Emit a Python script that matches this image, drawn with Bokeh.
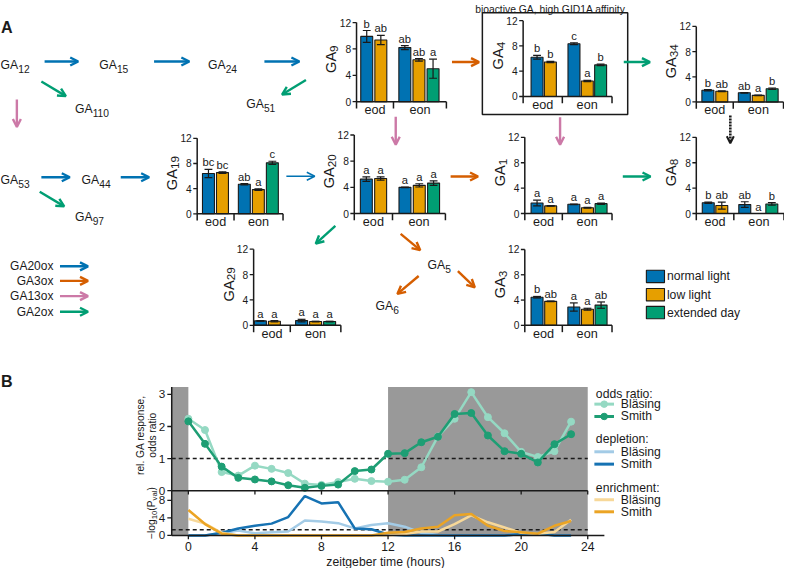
import math
from bokeh.plotting import figure
from bokeh.models import Range1d, Arrow, OpenHead
from bokeh.core.properties import value
from bokeh.embed import file_html
from bokeh.resources import INLINE

# ------------------------------------------------------------------ data
GROUPS = ["eod", "eon"]
CONDITIONS = ["normal light", "low light", "extended day"]
BAR_CONDITION = [0, 1, 0, 1, 2]      # condition of each bar: eod (2 bars), eon (3 bars)
Y_TICKS = [0, 4, 8, 12]

GA9_MEAN = [9.9, 9.35, 8.2, 6.35, 5.0]
GA9_ERR = [0.9, 0.7, 0.3, 0.2, 1.45]
GA9_SIG = ["b", "ab", "ab", "ab", "a"]

GA4_MEAN = [6.2, 5.45, 8.35, 2.45, 5.0]
GA4_ERR = [0.3, 0.1, 0.15, 0.1, 0.12]
GA4_SIG = ["b", "b", "c", "a", "b"]

GA34_MEAN = [1.85, 1.7, 1.45, 1.05, 2.1]
GA34_ERR = [0.1, 0.05, 0.05, 0.05, 0.12]
GA34_SIG = ["b", "ab", "ab", "a", "b"]

GA19_MEAN = [6.4, 6.55, 4.7, 3.85, 8.1]
GA19_ERR = [0.65, 0.12, 0.1, 0.12, 0.25]
GA19_SIG = ["bc", "bc", "ab", "a", "c"]

GA20_MEAN = [5.25, 5.35, 4.0, 4.3, 4.65]
GA20_ERR = [0.35, 0.25, 0.05, 0.25, 0.35]
GA20_SIG = ["a", "a", "a", "a", "a"]

GA1_MEAN = [1.65, 1.2, 1.45, 0.9, 1.55]
GA1_ERR = [0.45, 0.05, 0.05, 0.05, 0.1]
GA1_SIG = ["a", "a", "a", "a", "a"]

GA8_MEAN = [1.7, 1.25, 1.4, 0.0, 1.5]
GA8_ERR = [0.1, 0.55, 0.45, 0.0, 0.2]
GA8_SIG = ["b", "ab", "ab", "a", "b"]

GA29_MEAN = [0.7, 0.65, 0.75, 0.6, 0.6]
GA29_ERR = [0.05, 0.1, 0.2, 0.05, 0.05]
GA29_SIG = ["a", "a", "a", "a", "a"]

GA3_MEAN = [4.45, 3.8, 2.9, 2.55, 3.2]
GA3_ERR = [0.12, 0.05, 0.65, 0.15, 0.5]
GA3_SIG = ["b", "ab", "a", "a", "ab"]

ENZYMES = ["GA20ox", "GA3ox", "GA13ox", "GA2ox"]

ZT_HOURS = list(range(24))
ODDS_BLAESING = [2.24, 1.89, 0.58, 0.47, 0.78, 0.68, 0.55, 0.22, 0.18, 0.27, 0.37, 0.30,
                 0.28, 0.34, 0.73, 1.69, 2.24, 3.07, 2.29, 1.79, 1.21, 1.05, 1.23, 2.15]
ODDS_SMITH = [2.16, 1.46, 0.75, 0.40, 0.35, 0.29, 0.17, 0.09, 0.15, 0.19, 0.61, 0.66,
              1.15, 1.17, 1.51, 1.68, 2.39, 2.42, 1.72, 1.23, 1.15, 0.88, 1.45, 1.76]
DEPL_BLAESING = [0, 0, 0.5, 1.1, 0.5, 0.7, 0.9, 3.4, 3.2, 2.8, 1.6, 2.4,
                 2.8, 2.0, 0.6, 0.1, 0, 0, 0, 0, 0.3, 0.4, 0, 0]
DEPL_SMITH = [0, 0, 0.6, 1.6, 2.2, 2.7, 4.2, 9.0, 7.3, 7.6, 1.6, 1.4,
              0.2, 0, 0, 0, 0, 0, 0, 0, 0.3, 0.5, 0, 0]
ENR_BLAESING = [3.8, 2.7, 0.6, 0, 0, 0, 0, 0, 0, 0, 0, 0,
                0, 0.3, 0.9, 0.9, 2.6, 4.6, 3.0, 1.8, 0.6, 0.4, 0.8, 3.6]
ENR_SMITH = [5.8, 2.6, 0.4, 0, 0, 0, 0, 0, 0, 0, 0, 0,
             0.6, 0.8, 1.6, 2.0, 4.6, 4.9, 2.2, 1.0, 0.7, 0.4, 2.2, 3.3]
DARK_START = [-1, 12]
DARK_END = [0, 24]
ZT_TICKS = [0, 4, 8, 12, 16, 20, 24]
ODDS_TICKS = [0, 1, 2, 3]
LOGP_TICKS = [0, 4, 8]
ODDS_REF = 1.0
P_REF = -math.log10(0.05)

# ------------------------------------------------------------------ style
FONT = value("Liberation Sans")
FONT_SCALE = 0.975
INK = "#1a1a1a"
BAR_COLORS = ["#0072B2", "#E69F00", "#009E73"]
ARROW_COLORS = {"b": "#0072B2", "o": "#D55E00", "p": "#CC79A7", "g": "#009E73", "k": "#1a1a1a"}
C_ODDS_B, C_ODDS_S = "#95d9c3", "#1e9e74"
C_DEP_B, C_DEP_S = "#a3cbe6", "#1672b3"
C_ENR_B, C_ENR_S = "#f7d899", "#eba424"
GREY = "#999999"

W = {' ': 278, '(': 333, ')': 333, ',': 278, '.': 278, '\u2212': 584, '-': 333, ':': 278,
     'A': 667, 'B': 667, 'D': 722, 'G': 778, 'I': 278, 'P': 667, 'S': 667,
     'a': 556, 'b': 556, 'c': 500, 'd': 556, 'e': 556, 'f': 278, 'g': 556, 'h': 556,
     'i': 222, 'l': 222, 'm': 833, 'n': 556, 'o': 556, 'p': 556, 'r': 333, 's': 500,
     't': 278, 'u': 556, 'v': 500, 'x': 500, 'y': 500, 'z': 500, '\u00e4': 556}
for d in "0123456789":
    W[d] = 556


def fs(px):
    return f"{px * FONT_SCALE:.2f}px"


def tw(s, size):
    return sum(W.get(c, 556) for c in s) * size / 1000.0


p = figure(width=784, height=568, x_range=Range1d(0, 800), y_range=Range1d(584, 0),
           x_axis_type=None, y_axis_type=None, output_backend="svg",
           toolbar_location=None, min_border=0, outline_line_color=None)
p.background_fill_color = "white"
p.border_fill_color = "white"
p.extra_x_ranges = {}
p.extra_y_ranges = {}


def put(x, y, t, size, align="left", baseline="alphabetic", angle=0.0, bold=False,
        color=INK, xr="default", yr="default"):
    p.text(x=[x], y=[y], text=[t], text_font=FONT, text_font_size=fs(size),
           text_align=align, text_baseline=baseline, angle=angle, text_color=color,
           text_font_style="bold" if bold else "normal",
           x_range_name=xr, y_range_name=yr)


def htext(x, yb, parts, align="left"):
    total = sum(tw(t, sz) for t, sz, dy in parts)
    cx = x - (total / 2 if align == "center" else (total if align == "right" else 0))
    for t, sz, dy in parts:
        put(cx, yb + dy, t, sz)
        cx += tw(t, sz)


def vtext(xc, yc, parts, main):
    total = sum(tw(t, sz) for t, sz, dy in parts)
    xb = xc + 0.716 * main / 2
    cy = yc + total / 2
    for t, sz, dy in parts:
        put(xb + dy, cy, t, sz, angle=math.pi / 2)
        cy -= tw(t, sz)


def ga_label(x, y_center, sub, size=12.5, subsize=10.5):
    htext(x, y_center + 0.358 * size, [("GA", size, 0), (sub, subsize, 4.2)])


# ------------------------------------------------------------------ bar panels
PANELS = [
    ("9", GA9_MEAN, GA9_ERR, GA9_SIG, dict(ax=363.3, y0=104.0, y12=22.7, c0=373.7, s=14.4, g=2.7, sep=401.0, end=455.0)),
    ("4", GA4_MEAN, GA4_ERR, GA4_SIG, dict(ax=533.3, y0=98.7, y12=20.7, c0=547.5, s=13.6, g=2.77, sep=573.3, end=624.0)),
    ("34", GA34_MEAN, GA34_ERR, GA34_SIG, dict(ax=710.0, y0=104.3, y12=26.7, c0=721.8, s=14.2, g=2.62, sep=747.7, end=799.0)),
    ("19", GA19_MEAN, GA19_ERR, GA19_SIG, dict(ax=200.7, y0=219.3, y12=141.7, c0=212.2, s=14.3, g=2.56, sep=238.3, end=288.3)),
    ("20", GA20_MEAN, GA20_ERR, GA20_SIG, dict(ax=361.0, y0=219.0, y12=138.3, c0=373.3, s=14.6, g=2.7, sep=400.0, end=454.0)),
    ("1", GA1_MEAN, GA1_ERR, GA1_SIG, dict(ax=535.0, y0=219.0, y12=140.7, c0=547.5, s=13.9, g=2.7, sep=573.3, end=624.0)),
    ("8", GA8_MEAN, GA8_ERR, GA8_SIG, dict(ax=710.0, y0=219.0, y12=140.7, c0=722.2, s=13.8, g=2.7, sep=748.3, end=799.5)),
    ("29", GA29_MEAN, GA29_ERR, GA29_SIG, dict(ax=258.3, y0=334.0, y12=255.7, c0=265.2, s=14.3, g=2.94, sep=295.7, end=347.3)),
    ("3", GA3_MEAN, GA3_ERR, GA3_SIG, dict(ax=535.0, y0=334.0, y12=256.0, c0=547.5, s=13.9, g=2.7, sep=573.3, end=624.0)),
]


def bar_panel(sub, mean, err, sig, L):
    c0, s, g = L["c0"], L["s"], L["g"]
    k = (L["y0"] - L["y12"]) / 12.0
    xr, yr = "x" + sub, "y" + sub
    p.extra_x_ranges[xr] = Range1d(start=(0 - c0) / s, end=(800 - c0) / s)
    p.extra_y_ranges[yr] = Range1d(start=(L["y0"] - 584) / k, end=L["y0"] / k)
    pos = [0, 1, g, g + 1, g + 2]
    colors = [BAR_COLORS[c] for c in BAR_CONDITION]
    rk = dict(x_range_name=xr, y_range_name=yr)
    p.vbar(x=pos, top=mean, bottom=0, width=12.2 / s, fill_color=colors,
           line_color=INK, line_width=1.1, **rk)
    ex = [q for q, e in zip(pos, err) if e > 0]
    lo = [m - e for m, e in zip(mean, err) if e > 0]
    hi = [m + e for m, e in zip(mean, err) if e > 0]
    cw = 4.0 / s
    p.segment(x0=ex, y0=lo, x1=ex, y1=hi, line_color=INK, line_width=1.2, **rk)
    p.segment(x0=[q - cw for q in ex], y0=hi, x1=[q + cw for q in ex], y1=hi, line_color=INK, line_width=1.2, **rk)
    p.segment(x0=[q - cw for q in ex], y0=lo, x1=[q + cw for q in ex], y1=lo, line_color=INK, line_width=1.2, **rk)
    p.text(x=pos, y=[m + e + 1.0 / k for m, e in zip(mean, err)], text=sig, text_font=FONT,
           text_font_size=fs(11.5), text_align="center", text_baseline="bottom",
           text_color=INK, **rk)
    ua = (L["ax"] - c0) / s
    us = (L["sep"] - c0) / s
    ue = (L["end"] - c0) / s
    br = 7.0 / k
    p.segment(x0=[ua], y0=[-br], x1=[ua], y1=[Y_TICKS[-1]], line_color=INK, line_width=1.5, **rk)
    p.segment(x0=[ua] * len(Y_TICKS), y0=Y_TICKS, x1=[ua - 4.0 / s] * len(Y_TICKS), y1=Y_TICKS,
              line_color=INK, line_width=1.3, **rk)
    p.text(x=[ua - 5.5 / s] * len(Y_TICKS), y=Y_TICKS, text=[str(t) for t in Y_TICKS],
           text_font=FONT, text_font_size=fs(10.5), text_align="right",
           text_baseline="middle", text_color=INK, **rk)
    p.segment(x0=[ua], y0=[0], x1=[ue], y1=[0], line_color=INK, line_width=1.5, **rk)
    p.segment(x0=[us, ue], y0=[0, 0], x1=[us, ue], y1=[-br, -br], line_color=INK, line_width=1.5, **rk)
    p.text(x=[(ua + us) / 2, (us + ue) / 2], y=[-8.6 / k] * 2, text=GROUPS, text_font=FONT,
           text_font_size=fs(13), text_align="center", text_baseline="middle",
           text_color=INK, **rk)
    vtext(L["ax"] - 31, (L["y0"] + L["y12"]) / 2 - 3, [("GA", 15, 0), (sub, 12, 3)], 15)


for sub, mean, err, sig, L in PANELS:
    bar_panel(sub, mean, err, sig, L)

# box around GA4 and its title
p.quad(left=[491.7], right=[640.0], top=[12.7], bottom=[117.3], fill_color=None,
       line_color=INK, line_width=1.5)
put(561, 9.0, "bioactive GA, high GID1A affinity", 10.6, align="center")

# ------------------------------------------------------------------ pathway
put(0.5, 27, "A", 16.5, bold=True)
put(0.5, 391, "B", 16.5, bold=True)
for sub, x, y in [("12", 0, 61.7), ("15", 100.7, 62), ("24", 211.7, 62), ("110", 76, 107.3),
                  ("51", 250.7, 101.7), ("53", 0, 180), ("44", 82.7, 180), ("97", 76, 218.3),
                  ("5", 435.7, 267.8), ("6", 382.7, 310)]:
    ga_label(x, y, sub)

ARROWS = [
    ("b", 45, 62.7, 79.3, 62.7, 2.4), ("b", 156.7, 62.7, 192.7, 62.7, 2.4),
    ("b", 269.3, 62.7, 305, 62.7, 2.4), ("g", 41.7, 83.3, 66.7, 98.3, 2.4),
    ("p", 16.7, 101.7, 16.7, 130, 2.4), ("g", 311.7, 81.7, 287.3, 96.7, 2.4),
    ("b", 41.7, 181.7, 70.7, 181.7, 2.4), ("b", 122.7, 181.7, 151.7, 181.7, 2.4),
    ("g", 40, 196.7, 65, 211.7, 2.4), ("b", 291.7, 180.7, 320.7, 180.7, 1.4),
    ("g", 341.7, 231.7, 321.7, 250, 2.4), ("o", 408.3, 240, 428.3, 256.7, 2.4),
    ("o", 426.7, 283.3, 405, 301.7, 2.4), ("o", 466.7, 278.3, 484, 295, 2.4),
    ("o", 459.3, 181, 487.3, 181, 2.4), ("o", 460.7, 63.3, 488.3, 63.3, 2.4),
    ("g", 636, 63.3, 662.7, 63.3, 2.4), ("p", 403.3, 119.5, 403.3, 148.3, 2.4),
    ("p", 571, 120, 571, 148.3, 2.4), ("g", 635, 181, 663.3, 181, 2.4),
]
for c, x0, y0, x1, y1, lw in ARROWS:
    col = ARROW_COLORS[c]
    p.add_layout(Arrow(end=OpenHead(line_color=col, line_width=lw, size=8),
                       x_start=x0, y_start=y0, x_end=x1, y_end=y1,
                       line_color=col, line_width=lw))
p.add_layout(Arrow(end=OpenHead(line_color=INK, line_width=2, size=7),
                   x_start=744.7, y_start=118.3, x_end=744.7, y_end=146.7,
                   line_color=INK, line_width=2.6, line_dash="2 1"))

# enzyme legend
for name, c, y in zip(ENZYMES, ["b", "o", "p", "g"], [273.3, 288.3, 304, 320]):
    put(54, y, name, 12.3, align="right", baseline="middle")
    col = ARROW_COLORS[c]
    p.add_layout(Arrow(end=OpenHead(line_color=col, line_width=2.4, size=8),
                       x_start=60.7, y_start=y, x_end=89.3, y_end=y,
                       line_color=col, line_width=2.4))

# condition legend
for i, (name, y) in enumerate(zip(CONDITIONS, [283.7, 302.5, 320.8])):
    p.rect(x=[668.3], y=[y], width=18.5, height=12.7, fill_color=BAR_COLORS[i],
           line_color=INK, line_width=1.1)
    put(680, y, name, 12.5, baseline="middle")

# ------------------------------------------------------------------ panel B
ZT0, ZTS = 191.7, 16.98
ODDS0, ODDSK = 504.0, 33.0
LOGP0, LOGPK = 550.0, 4.5
ODDS_TOP = (ODDS0 - 397.3) / ODDSK
LOGP_TOP = (LOGP0 - ODDS0) / LOGPK
p.extra_x_ranges["zt"] = Range1d(start=(0 - ZT0) / ZTS, end=(800 - ZT0) / ZTS)
p.extra_y_ranges["odds"] = Range1d(start=(ODDS0 - 584) / ODDSK, end=ODDS0 / ODDSK)
p.extra_y_ranges["logp"] = Range1d(start=(LOGP0 - 584) / LOGPK, end=LOGP0 / LOGPK)
RO = dict(x_range_name="zt", y_range_name="odds")
RP = dict(x_range_name="zt", y_range_name="logp")

p.quad(left=DARK_START, right=DARK_END, bottom=0, top=ODDS_TOP, fill_color=GREY,
       line_color=None, **RO)
p.quad(left=DARK_START, right=DARK_END, bottom=0, top=LOGP_TOP, fill_color=GREY,
       line_color=None, **RP)
p.line(x=[DARK_START[0], DARK_END[-1]], y=[ODDS_REF, ODDS_REF], line_color=INK,
       line_width=1.5, line_dash="4 3", **RO)
p.line(x=[DARK_START[0], DARK_END[-1]], y=[P_REF, P_REF], line_color=INK,
       line_width=1.5, line_dash="4 3", **RP)

p.line(x=ZT_HOURS, y=ODDS_BLAESING, line_color=C_ODDS_B, line_width=2.5, **RO)
p.scatter(x=ZT_HOURS, y=ODDS_BLAESING, size=7, fill_color=C_ODDS_B, line_color=C_ODDS_B, **RO)
p.line(x=ZT_HOURS, y=ODDS_SMITH, line_color=C_ODDS_S, line_width=2.5, **RO)
p.scatter(x=ZT_HOURS, y=ODDS_SMITH, size=7, fill_color=C_ODDS_S, line_color=C_ODDS_S, **RO)

p.line(x=ZT_HOURS, y=DEPL_BLAESING, line_color=C_DEP_B, line_width=2.5, **RP)
p.line(x=ZT_HOURS, y=DEPL_SMITH, line_color=C_DEP_S, line_width=2.5, **RP)
p.line(x=ZT_HOURS, y=ENR_BLAESING, line_color=C_ENR_B, line_width=2.5, **RP)
p.line(x=ZT_HOURS, y=ENR_SMITH, line_color=C_ENR_S, line_width=2.5, **RP)

# axes of panel B
xa = DARK_START[0]
p.segment(x0=[xa], y0=[0], x1=[xa], y1=[ODDS_TOP], line_color=INK, line_width=1.5, **RO)
p.segment(x0=[xa - 4.5 / ZTS] * 4, y0=ODDS_TICKS, x1=[xa] * 4, y1=ODDS_TICKS,
          line_color=INK, line_width=1.3, **RO)
p.text(x=[xa - 6.5 / ZTS] * 4, y=ODDS_TICKS, text=[str(t) for t in ODDS_TICKS],
       text_font=FONT, text_font_size=fs(12), text_align="right", text_baseline="middle",
       text_color=INK, **RO)
p.segment(x0=[xa], y0=[0], x1=[DARK_END[-1]], y1=[0], line_color=INK, line_width=1.5, **RO)
p.segment(x0=ZT_TICKS, y0=[0] * 7, x1=ZT_TICKS, y1=[-4.0 / ODDSK] * 7, line_color=INK,
          line_width=1.3, **RO)

p.segment(x0=[xa], y0=[0], x1=[xa], y1=[LOGP_TOP], line_color=INK, line_width=1.5, **RP)
p.segment(x0=[xa - 4.5 / ZTS] * 3, y0=LOGP_TICKS, x1=[xa] * 3, y1=LOGP_TICKS,
          line_color=INK, line_width=1.3, **RP)
p.text(x=[xa - 6.5 / ZTS] * 3, y=LOGP_TICKS, text=[str(t) for t in LOGP_TICKS],
       text_font=FONT, text_font_size=fs(12), text_align="right", text_baseline="middle",
       text_color=INK, **RP)
p.segment(x0=[xa], y0=[0], x1=[DARK_END[-1] + 1], y1=[0], line_color=INK, line_width=1.5, **RP)
p.segment(x0=ZT_TICKS, y0=[0] * 7, x1=ZT_TICKS, y1=[-4.0 / LOGPK] * 7, line_color=INK,
          line_width=1.3, **RP)
p.text(x=ZT_TICKS, y=[-11.8 / LOGPK] * 7, text=[str(t) for t in ZT_TICKS], text_font=FONT,
       text_font_size=fs(12.5), text_align="center", text_baseline="middle",
       text_color=INK, **RP)
htext(393.3, 577.5, [("zeitgeber time (hours)", 12.5, 0)], align="center")

vtext(139, 447, [("rel. GA response,", 10.5, 0)], 10.5)
vtext(151, 447, [("odds ratio", 10.5, 0)], 10.5)
vtext(150, 527, [("\u2212log", 10.5, 0), ("10", 8, 3), ("(P", 10.5, 0), ("val", 8, 3),
                 (")", 10.5, 0)], 10.5)

# panel B legend
LEG = [("odds ratio:", 404.3, None), ("Bl\u00e4sing", 415.0, C_ODDS_B), ("Smith", 427.7, C_ODDS_S),
       ("depletion:", 451.0, None), ("Bl\u00e4sing", 464.0, C_DEP_B), ("Smith", 476.7, C_DEP_S),
       ("enrichment:", 501.7, None), ("Bl\u00e4sing", 513.3, C_ENR_B), ("Smith", 525.7, C_ENR_S)]
for i, (t, y, col) in enumerate(LEG):
    if col is None:
        put(607.5, y, t, 12.5, baseline="middle")
    else:
        p.line(x=[606, 626], y=[y, y], line_color=col, line_width=3)
        if i < 3:
            p.scatter(x=[616], y=[y], size=6.5, fill_color=col, line_color=col)
        put(633, y, t, 12.5, baseline="middle")

open("out.html", "w").write(file_html(p, INLINE))
